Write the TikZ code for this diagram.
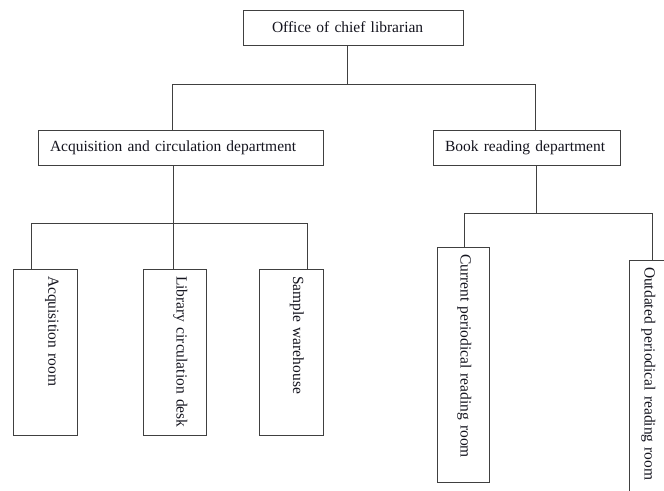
\documentclass[tikz,border=0pt]{standalone}
\usepackage{fontspec}
\setmainfont{Liberation Serif}
\definecolor{edge}{RGB}{64,64,64}
\definecolor{ink}{RGB}{20,20,30}
\tikzset{
  unit/.style={draw=edge,line width=0.8pt,minimum height=35pt,inner sep=0pt,
    align=left,inner xsep=12pt,font=\fontsize{15.5}{17}\selectfont,text=ink},
  room/.style={draw=edge,line width=0.8pt,rotate=-90,align=left,inner xsep=7pt,
    inner ysep=0pt,font=\fontsize{15.5}{17}\selectfont,text=ink},
  link/.style={draw=edge,line width=0.8pt},
}

\begin{document}
\begin{tikzpicture}[x=1pt,y=-1pt]
  \clip (0,0) rectangle (664,490);
  % head of the library
  \node[unit,minimum width=220pt,text width=162pt,inner xsep=29pt] (chief)
    at (353,27.5) {Office of chief librarian};
  % departments
  \node[unit,minimum width=285pt,text width=261pt] (acqdept)
    at (180.5,147.5) {Acquisition and circulation department};
  \node[unit,minimum width=187pt,text width=163pt] (bookdept)
    at (526.5,147.5) {Book reading department};
  % rooms
  \node[room,minimum width=166pt,minimum height=64pt,text width=152pt,text depth=17pt] (acqroom)
    at (45,352) {Acquisition room};
  \node[room,minimum width=166pt,minimum height=63pt,text width=152pt,text depth=15pt] (libdesk)
    at (174.5,352) {Library circulation desk};
  \node[room,minimum width=166pt,minimum height=64pt,text width=152pt,text depth=15pt] (warehouse)
    at (291,352) {Sample warehouse};
  \node[room,minimum width=235pt,minimum height=52pt,text width=221pt,text depth=6pt] (current)
    at (463,364.5) {Current periodical reading room};
  \node[room,minimum width=235pt,minimum height=52pt,text width=221pt,text height=24pt] (outdated)
    at (655,377.5) {Outdated periodical reading room};

  % bus lines
  \coordinate (tbus) at (347,84);
  \coordinate (tbusW) at (172,84);
  \coordinate (tbusE) at (535,84);
  \coordinate (ldrop) at (173,223);
  \coordinate (lbusW) at (31,223);
  \coordinate (lbusE) at (307,223);
  \coordinate (rbus) at (536,213);
  \coordinate (rbusW) at (464,213);
  \coordinate (rbusE) at (652,213);

  \draw[link] (chief.south -| tbus) -- (tbus);
  \draw[link] (acqdept.north -| tbusW) -- (tbusW) -- (tbusE) -- (bookdept.north -| tbusE);
  \draw[link] (acqdept.south -| ldrop) -- (libdesk.west -| ldrop);
  \draw[link] (acqroom.west -| lbusW) -- (lbusW) -- (lbusE) -- (warehouse.west -| lbusE);
  \draw[link] (bookdept.south -| rbus) -- (rbus);
  \draw[link] (current.west -| rbusW) -- (rbusW) -- (rbusE) -- (outdated.west -| rbusE);
\end{tikzpicture}
\end{document}
